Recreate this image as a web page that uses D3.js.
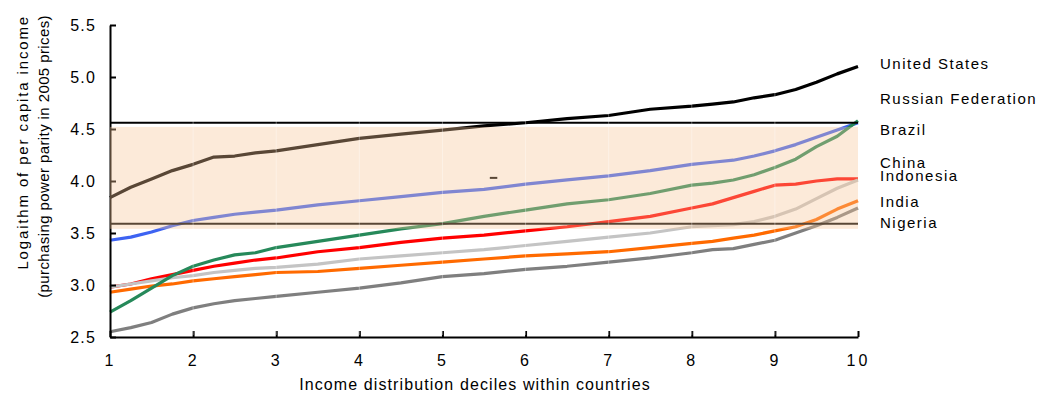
<!DOCTYPE html>
<html>

<head>
  <title>income deciles</title>
  <meta charset="utf-8">
  <script src="https://d3js.org/d3.v7.min.js"></script>
  <style type="text/css">
    body {
      margin: 0;
      background: #fff;
    }

    text {
      font-family: Arial, "Liberation Sans", sans-serif;
      fill: #000;
    }

    .axis text {
      font-size: 16px;
      letter-spacing: 1.2px;
    }

    .xaxis text {
      letter-spacing: 3px;
    }

    .label {
      font-size: 15px;
      letter-spacing: 1.5px;
    }

    .title {
      font-size: 16px;
      letter-spacing: 1.1px;
    }

    .ytitle1 {
      font-size: 15px;
      letter-spacing: 1.85px;
    }

    .ytitle2 {
      font-size: 15px;
      letter-spacing: 0.4px;
    }
  </style>
</head>

<body>
  <svg id="chart"></svg>
  <script>
    // deciles (x positions of the points)
    var deciles = [1, 1.25, 1.5, 1.75, 2, 2.25, 2.5, 2.75, 3, 3.5, 4, 4.5, 5, 5.5, 6, 6.5, 7, 7.5, 8, 8.25, 8.5, 8.75, 9, 9.25, 9.5, 9.75, 10];

    var countries = ["United States", "Russian Federation", "Brazil", "China", "Indonesia", "India", "Nigeria"];

    var unitedStates = [3.84, 3.94, 4.02, 4.10, 4.16, 4.23, 4.24, 4.27, 4.29, 4.35, 4.41, 4.45, 4.49, 4.53, 4.56, 4.60, 4.63, 4.69, 4.72, 4.74, 4.76, 4.80, 4.83, 4.88, 4.95, 5.03, 5.10];
    var russia = [3.43, 3.46, 3.51, 3.57, 3.62, 3.65, 3.68, 3.70, 3.72, 3.77, 3.81, 3.85, 3.89, 3.92, 3.97, 4.01, 4.05, 4.10, 4.16, 4.18, 4.20, 4.24, 4.29, 4.35, 4.42, 4.49, 4.56];
    var brazil = [2.74, 2.85, 2.97, 3.09, 3.18, 3.24, 3.29, 3.31, 3.36, 3.42, 3.48, 3.54, 3.59, 3.66, 3.72, 3.78, 3.82, 3.88, 3.96, 3.98, 4.01, 4.06, 4.13, 4.21, 4.33, 4.43, 4.58];
    var china = [2.98, 3.01, 3.06, 3.10, 3.14, 3.18, 3.21, 3.24, 3.26, 3.32, 3.36, 3.41, 3.45, 3.48, 3.52, 3.56, 3.61, 3.66, 3.74, 3.78, 3.84, 3.90, 3.96, 3.97, 4.00, 4.02, 4.02];
    var indonesia = [2.98, 3.01, 3.04, 3.07, 3.09, 3.12, 3.14, 3.16, 3.17, 3.20, 3.25, 3.28, 3.31, 3.34, 3.38, 3.42, 3.46, 3.50, 3.56, 3.57, 3.58, 3.61, 3.66, 3.73, 3.83, 3.93, 4.01];
    var india = [2.93, 2.96, 2.99, 3.01, 3.04, 3.06, 3.08, 3.10, 3.12, 3.13, 3.16, 3.19, 3.22, 3.25, 3.28, 3.30, 3.32, 3.36, 3.40, 3.42, 3.45, 3.48, 3.52, 3.56, 3.63, 3.73, 3.81];
    var nigeria = [2.55, 2.59, 2.64, 2.72, 2.78, 2.82, 2.85, 2.87, 2.89, 2.93, 2.97, 3.02, 3.08, 3.11, 3.15, 3.18, 3.22, 3.26, 3.31, 3.34, 3.35, 3.39, 3.43, 3.50, 3.57, 3.65, 3.74];

    // shaded band and the two reference lines
    var bandRange = [3.54, 4.52];
    var refLines = [4.56, 3.59];
    var strayMark = [[5.57, 4.03], [5.66, 4.03]];

    // where the country names sit (value units)
    var labelValues = [5.077, 4.74, 4.44, 4.125, 4.0, 3.75, 3.548];

    var xTicks = [1, 2, 3, 4, 5, 6, 7, 8, 9, 10];
    var yTicks = [2.5, 3.0, 3.5, 4.0, 4.5, 5.0, 5.5];

    var colors = {
      "United States": "#000000",
      "Russian Federation": "#3d63f2",
      "Brazil": "#26895a",
      "China": "#ff0000",
      "Indonesia": "#c4c4c4",
      "India": "#ff6a00",
      "Nigeria": "#7f7f7f"
    };

    var seriesValues = {
      "United States": unitedStates,
      "Russian Federation": russia,
      "Brazil": brazil,
      "China": china,
      "Indonesia": indonesia,
      "India": india,
      "Nigeria": nigeria
    };

    // draw order: brazil on top
    var drawOrder = ["United States", "Russian Federation", "China", "Indonesia", "India", "Nigeria", "Brazil"];

    var W = 1041, H = 396;
    var svg = d3.select("#chart").attr("width", W).attr("height", H);

    var x = d3.scaleLinear().domain([1, 10]).range([110, 858]);
    var y = d3.scaleLinear().domain([2.5, 5.5]).range([337, 25]);

    // series lines
    var line = d3.line()
      .x(function (d) { return x(d[0]); })
      .y(function (d) { return y(d[1]); });

    drawOrder.forEach(function (name) {
      var pts = deciles.map(function (dx, i) { return [dx, seriesValues[name][i]]; });
      svg.append("path")
        .datum(pts)
        .attr("d", line)
        .attr("fill", "none")
        .attr("stroke", colors[name])
        .attr("stroke-width", 3.2)
        .attr("stroke-linejoin", "round");
    });

    // reference lines
    svg.selectAll(".ref")
      .data(refLines)
      .enter()
      .append("line")
      .attr("class", "ref")
      .attr("x1", x(1))
      .attr("x2", x(10))
      .attr("y1", function (d) { return y(d); })
      .attr("y2", function (d) { return y(d); })
      .attr("stroke", "#000")
      .attr("stroke-width", 2);

    svg.append("path")
      .datum(strayMark)
      .attr("d", line)
      .attr("stroke", "#000")
      .attr("stroke-width", 2);

    // axes
    var yAxis = d3.axisLeft(y).tickValues(yTicks).tickFormat(d3.format(".1f")).tickSizeInner(-6).tickSizeOuter(0).tickPadding(14);
    svg.append("g")
      .attr("class", "axis")
      .attr("transform", "translate(" + x(1) + ",0)")
      .call(yAxis);

    var xAxis = d3.axisBottom(x).tickValues(xTicks).tickFormat(d3.format("d")).tickSizeInner(-6).tickSizeOuter(0).tickPadding(18);
    svg.append("g")
      .attr("class", "axis xaxis")
      .attr("transform", "translate(0," + y(2.5) + ")")
      .call(xAxis);

    svg.selectAll(".axis .domain").attr("stroke", "#000").attr("stroke-width", 2);
    svg.selectAll(".axis .tick line").attr("stroke", "#000").attr("stroke-width", 2);

    // translucent band over the lines
    svg.append("rect")
      .attr("x", x(1))
      .attr("y", y(bandRange[1]))
      .attr("width", x(10) - x(1))
      .attr("height", y(bandRange[0]) - y(bandRange[1]))
      .attr("fill", "rgb(246,198,150)")
      .attr("fill-opacity", 0.36);

    // faint vertical grid
    svg.selectAll(".grid")
      .data(xTicks.slice(1, 9))
      .enter()
      .append("line")
      .attr("x1", function (d) { return x(d); })
      .attr("x2", function (d) { return x(d); })
      .attr("y1", y(5.5))
      .attr("y2", y(2.5) - 2)
      .attr("stroke", "#fff")
      .attr("stroke-opacity", 0.35)
      .attr("stroke-width", 1);

    // country labels
    svg.selectAll(".label")
      .data(countries)
      .enter()
      .append("text")
      .attr("class", "label")
      .attr("x", 880)
      .attr("y", function (d, i) { return y(labelValues[i]); })
      .text(function (d) { return d; });

    // axis titles
    svg.append("text")
      .attr("class", "title")
      .attr("x", 475)
      .attr("y", 390)
      .attr("text-anchor", "middle")
      .text("Income distribution deciles within countries");

    svg.append("text")
      .attr("class", "ytitle1")
      .attr("transform", "translate(28,15) rotate(-90)")
      .attr("text-anchor", "end")
      .text("Logaithm of per capita income");

    svg.append("text")
      .attr("class", "ytitle2")
      .attr("transform", "translate(49,15) rotate(-90)")
      .attr("text-anchor", "end")
      .text("(purchasing power parity in 2005 prices)");
  </script>
</body>

</html>
